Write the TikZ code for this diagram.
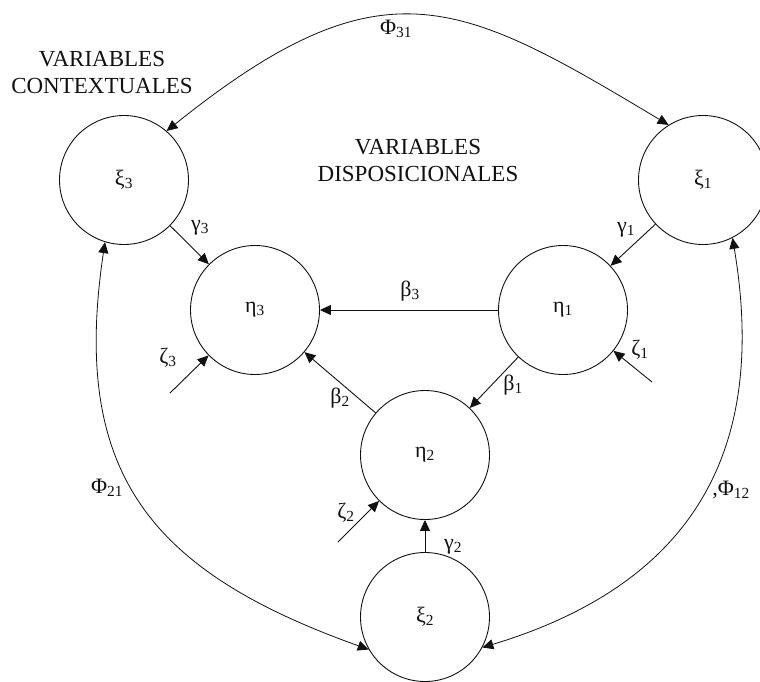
\documentclass[tikz,border=0pt]{standalone}
\usepackage{fontspec}
\setmainfont{Liberation Serif}
\usetikzlibrary{arrows.meta,calc}
\definecolor{ink}{HTML}{111111}
\tikzset{
  >=Triangle,
  every node/.style={font=\fontsize{22}{24}\selectfont,text=ink},
  latent/.style={circle,draw=ink,line width=0.9pt,fill=white,minimum size=129pt,inner sep=0pt},
  regarrow/.style={-{Triangle[length=11pt,width=10pt]},line width=0.9pt,draw=ink},
  corrarrow/.style={{Triangle[length=11pt,width=10pt]}-{Triangle[length=11pt,width=10pt]},line width=0.8pt,draw=ink},
  coef/.style={inner sep=1pt},
  heading/.style={font=\fontsize{23}{27}\selectfont,align=center},
}
\newcommand{\sub}[2]{#1\textsubscript{#2}}

\begin{document}
\begin{tikzpicture}[x=1pt,y=-1pt]
\useasboundingbox (0,0) rectangle (760,681);
\node[heading] (ctx) at (102,72) {VARIABLES\\CONTEXTUALES};
\node[heading] (disp) at (418,160) {VARIABLES\\DISPOSICIONALES};
\node[latent] (xi3) at (124,180) {\sub{ξ}{3}};
\node[latent] (xi1) at (703,180) {\sub{ξ}{1}};
\node[latent] (eta3) at (255,310) {\sub{η}{3}};
\node[latent] (eta1) at (563,310) {\sub{η}{1}};
\node[latent] (eta2) at (425,455) {\sub{η}{2}};
\node[latent] (xi2) at (425,617) {\sub{ξ}{2}};
\coordinate (z1) at (652,382);
\coordinate (z3) at (170,393);
\coordinate (z2) at (338,542);
\draw[regarrow] (xi3) -- (eta3);
\draw[regarrow] (xi1) -- (eta1);
\draw[regarrow] (eta1) -- (eta3);
\draw[regarrow] (eta1) -- (eta2);
\draw[regarrow] (eta2) -- (eta3);
\draw[regarrow] (xi2) -- (eta2);
\draw[regarrow] (z1) -- (eta1);
\draw[regarrow] (z3) -- (eta3);
\draw[regarrow] (z2) -- (eta2);
\draw[corrarrow] (xi3.49) .. controls (383,-43) and (460,0) .. (xi1.122);
\draw[corrarrow] (xi3.-107) .. controls (70,475) and (152,572) .. (xi2.-150);
\draw[corrarrow] (xi1.-63) .. controls (769,455) and (689,585) .. (xi2.-28);
\node[coef] (g3) at (200,228) {\sub{γ}{3}};
\node[coef] (g1) at (626,230) {\sub{γ}{1}};
\node[coef] (b3) at (410,291) {\sub{β}{3}};
\node[coef] (b1) at (513,385) {\sub{β}{1}};
\node[coef] (b2) at (340,398) {\sub{β}{2}};
\node[coef] (g2) at (453,547) {\sub{γ}{2}};
\node[coef] (zt1) at (640,350) {\sub{ζ}{1}};
\node[coef] (zt3) at (168,358) {\sub{ζ}{3}};
\node[coef] (zt2) at (346,513) {\sub{ζ}{2}};
\node[coef] (p31) at (396,29) {\sub{Φ}{31}};
\node[coef] (p21) at (107,488) {\sub{Φ}{21}};
\node[coef] (p12) at (731,490) {,\sub{Φ}{12}};
\end{tikzpicture}
\end{document}
